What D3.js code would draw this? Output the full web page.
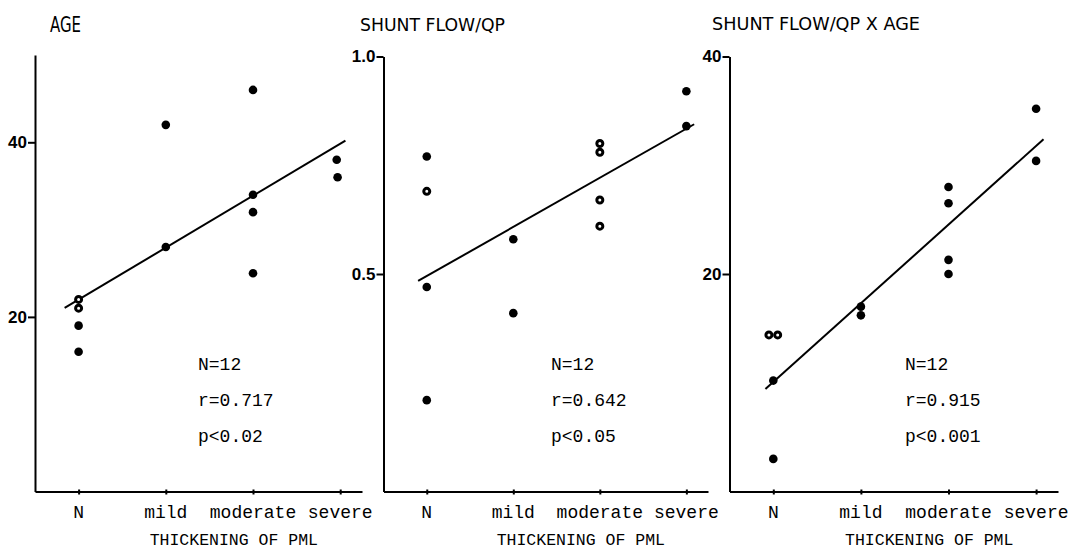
<!DOCTYPE html>
<html>
<head>
<meta charset="utf-8">
<script src="https://cdn.jsdelivr.net/npm/d3@7"></script>
<style>
  body { margin: 0; background: #fff; }
  svg { display: block; }
  .tick line, .domain { stroke: #000; stroke-width: 2; }
  .mono { font-family: "Liberation Mono", "Courier New", monospace; fill: #000; }
  .title { font-family: "DejaVu Sans", sans-serif; fill: #000; }
</style>
</head>
<body>
<div id="chart"></div>
<script>
// severity of PML thickening
var categories = ["N", "mild", "moderate", "severe"];
var patientCat = [0, 0, 0, 0, 1, 1, 2, 2, 2, 2, 3, 3];

// panel 1 - age
var ageValues = [22, 21, 19, 16, 42, 28, 46, 34, 32, 25, 38, 36];
var ageOpen   = [1, 1, 0, 0, 0, 0, 0, 0, 0, 0, 0, 0];
var ageJitter = [0, 0, 0, 0, 0, 0, 0, 0, 0, 0, -0.04, -0.03];
var ageTicks  = [20, 40];

// panel 2 - shunt flow / Qp
var flowValues = [0.77, 0.69, 0.47, 0.21, 0.58, 0.41, 0.80, 0.78, 0.67, 0.61, 0.92, 0.84];
var flowOpen   = [0, 1, 0, 0, 0, 0, 1, 1, 1, 1, 0, 0];
var flowJitter = [0, 0, 0, 0, 0, 0, 0, 0, 0, 0, 0, 0];
var flowTicks  = [0.5, 1.0];

// panel 3 - shunt flow / Qp x age
var prodValues = [14.4, 14.4, 10.2, 3.0, 17.0, 16.2, 28.0, 26.5, 21.3, 20.0, 35.2, 30.4];
var prodOpen   = [1, 1, 0, 0, 0, 0, 0, 0, 0, 0, 0, 0];
var prodJitter = [-0.05, 0.05, 0, 0, 0, 0, 0, 0, 0, 0, 0, 0];
var prodTicks  = [20, 40];

var titles = ["AGE", "SHUNT FLOW/QP", "SHUNT FLOW/QP X AGE"];
var nLabels = ["N=12", "N=12", "N=12"];
var rLabels = ["r=0.717", "r=0.642", "r=0.915"];
var pLabels = ["p<0.02", "p<0.05", "p<0.001"];
var xLabel = "THICKENING OF PML";

var svg = d3.select("#chart")
    .append("svg")
    .attr("width", 1068)
    .attr("height", 550);

// layout of each panel (pixels)
var panels = [
  {values: ageValues, open: ageOpen, jitter: ageJitter, ticks: ageTicks, domain: [0, 50], fmt: d3.format("d"),
   left: 35, right: 362, top: 55, bottom: 491.5, fit: [-0.16, 3.06],
   title: {x: 50, y: 32, len: 31, size: 21}, statX: 198},
  {values: flowValues, open: flowOpen, jitter: flowJitter, ticks: flowTicks, domain: [0, 1], fmt: d3.format(".1f"),
   left: 383.5, right: 708, top: 56.5, bottom: 491.5, fit: [-0.1, 3.09],
   title: {x: 360, y: 31, len: 145, size: 18}, statX: 551},
  {values: prodValues, open: prodOpen, jitter: prodJitter, ticks: prodTicks, domain: [0, 40], fmt: d3.format("d"),
   left: 729.5, right: 1058, top: 56.5, bottom: 491.5, fit: [-0.09, 3.085],
   title: {x: 712, y: 30, len: 208, size: 18}, statX: 905}
];

panels.forEach(function(p, i) {
  var g = svg.append("g");

  var x = d3.scaleLinear().domain([-0.5, 3.25]).range([p.left, p.right]);
  var y = d3.scaleLinear().domain(p.domain).range([p.bottom, p.top]);

  // y axis
  var yAxis = g.append("g")
      .attr("transform", "translate(" + p.left + ",0)")
      .call(d3.axisLeft(y).tickValues(p.ticks).tickFormat(p.fmt).tickSize(7).tickSizeOuter(0).tickPadding(1));
  yAxis.attr("font-size", null).attr("font-family", null);
  yAxis.selectAll("text")
    .attr("fill", "#000")
    .attr("font-family", "Liberation Sans, Arial, sans-serif")
    .attr("font-weight", "bold")
    .attr("font-size", 17);

  // x axis
  var xAxis = g.append("g")
      .attr("transform", "translate(0," + p.bottom + ")")
      .call(d3.axisBottom(x).tickValues([0, 1, 2, 3]).tickFormat("").tickSize(3).tickSizeOuter(0));
  xAxis.selectAll(".tick line").attr("y1", -2);

  g.selectAll(".cat")
    .data(categories)
    .join("text")
    .attr("class", "mono")
    .attr("x", function(d, k) { return x(k); })
    .attr("y", 518)
    .attr("text-anchor", "middle")
    .style("font-size", "18px")
    .text(function(d) { return d; });

  g.append("text")
    .attr("class", "mono")
    .attr("x", x(1.78))
    .attr("y", 545)
    .attr("text-anchor", "middle")
    .style("font-size", "16.5px")
    .text(xLabel);

  // title
  g.append("text")
    .attr("class", "title")
    .attr("x", p.title.x)
    .attr("y", p.title.y)
    .attr("textLength", p.title.len)
    .attr("lengthAdjust", "spacingAndGlyphs")
    .style("font-size", p.title.size + "px")
    .text(titles[i]);

  // regression line from the data
  var pts = p.values.map(function(v, k) { return {c: patientCat[k], v: v, open: p.open[k], j: p.jitter[k]}; });
  var mx = d3.mean(pts, function(d) { return d.c; });
  var my = d3.mean(pts, function(d) { return d.v; });
  var sxy = d3.sum(pts, function(d) { return (d.c - mx) * (d.v - my); });
  var sxx = d3.sum(pts, function(d) { return (d.c - mx) * (d.c - mx); });
  var slope = sxy / sxx, icpt = my - slope * mx;

  g.append("line")
    .attr("x1", x(p.fit[0])).attr("y1", y(icpt + slope * p.fit[0]))
    .attr("x2", x(p.fit[1])).attr("y2", y(icpt + slope * p.fit[1]))
    .attr("stroke", "#000")
    .attr("stroke-width", 2);

  // points
  g.selectAll(".pt")
    .data(pts)
    .join("circle")
    .attr("cx", function(d) { return x(d.c + d.j); })
    .attr("cy", function(d) { return y(d.v); })
    .attr("r", function(d) { return d.open ? 3 : 4.3; })
    .attr("fill", function(d) { return d.open ? "#fff" : "#000"; })
    .attr("stroke", "#000")
    .attr("stroke-width", function(d) { return d.open ? 3 : 0; });

  // statistics
  g.selectAll(".stat")
    .data([nLabels[i], rLabels[i], pLabels[i]])
    .join("text")
    .attr("class", "mono")
    .attr("x", p.statX)
    .attr("y", function(d, k) { return 370 + k * 36; })
    .style("font-size", "18px")
    .text(function(d) { return d; });
});
</script>
</body>
</html>
